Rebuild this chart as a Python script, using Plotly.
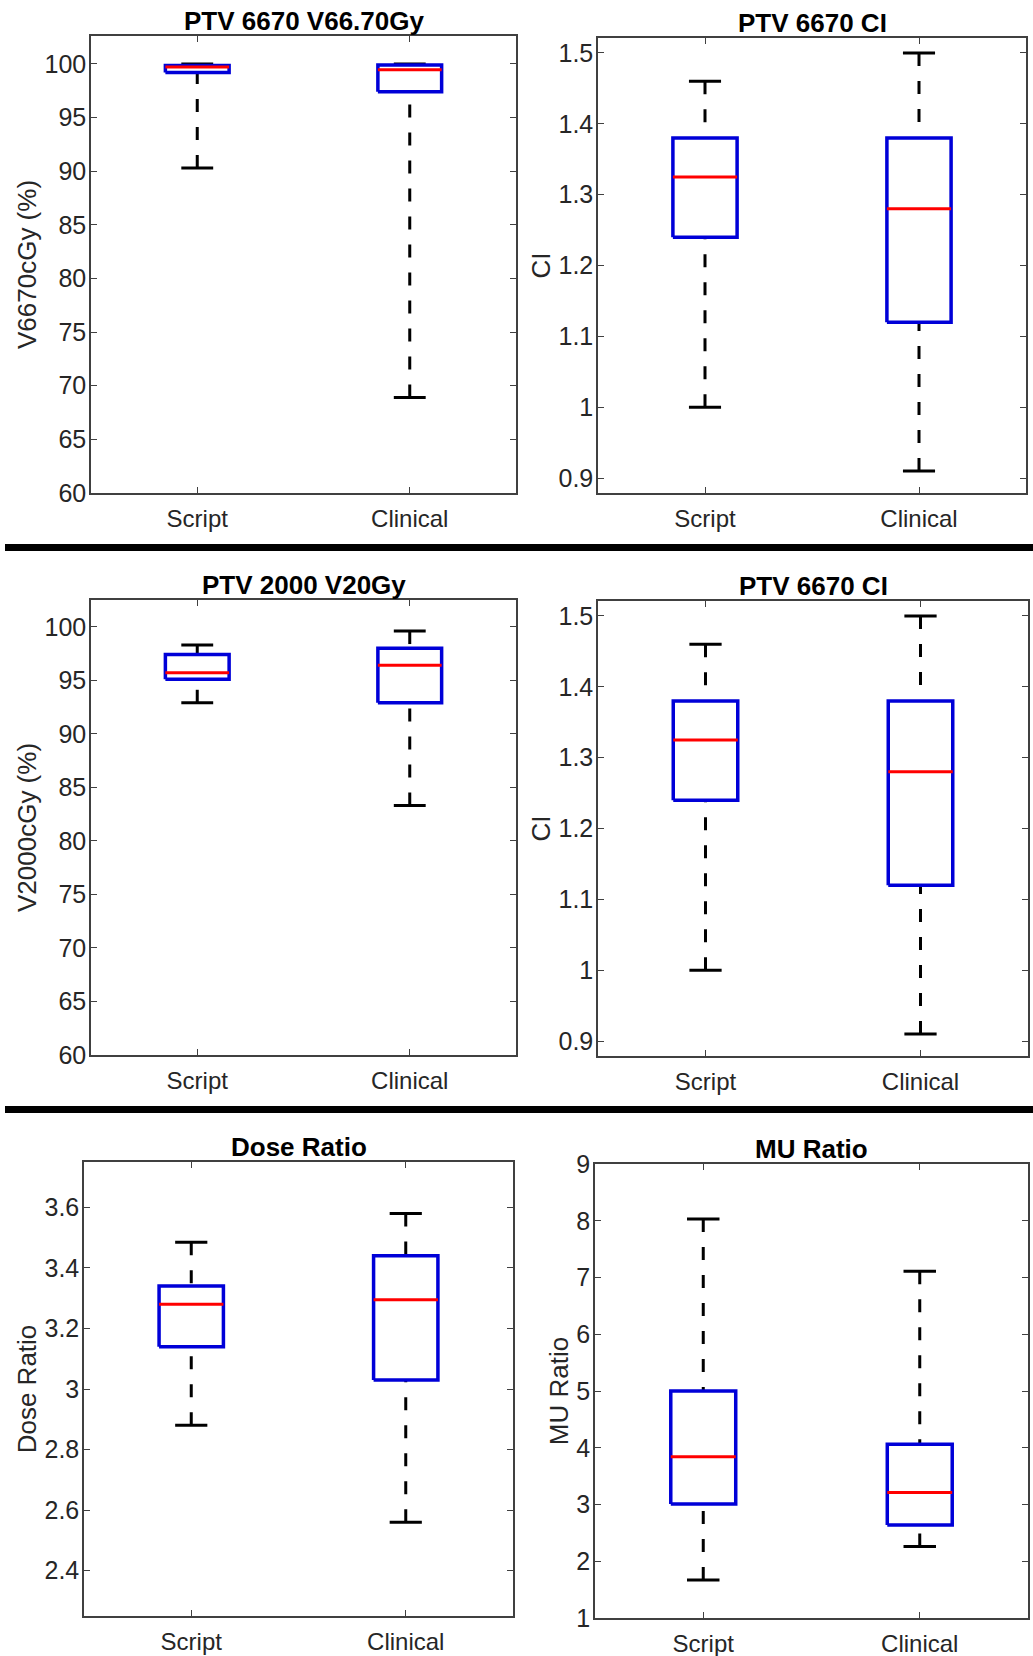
import plotly.graph_objects as go

W, H = 1033, 1656

categories = ["Script", "Clinical"]

# box statistics: [lower whisker, q1, median, q3, upper whisker]
v6670_script = [90.3, 99.2, 99.7, 99.85, 100.0]
v6670_clinical = [68.9, 97.4, 99.45, 99.9, 100.0]
ci_script = [1.00, 1.24, 1.325, 1.38, 1.46]
ci_clinical = [0.91, 1.12, 1.28, 1.38, 1.50]
v2000_script = [92.9, 95.1, 95.7, 97.4, 98.3]
v2000_clinical = [83.3, 92.9, 96.4, 98.0, 99.6]
dose_script = [2.88, 3.14, 3.28, 3.34, 3.485]
dose_clinical = [2.56, 3.03, 3.295, 3.44, 3.58]
mu_script = [1.67, 3.01, 3.84, 5.00, 8.03]
mu_clinical = [2.26, 2.64, 3.21, 4.06, 7.11]

titles = ["PTV 6670 V66.70Gy", "PTV 6670 CI", "PTV 2000 V20Gy", "PTV 6670 CI",
          "Dose Ratio", "MU Ratio"]
ylabels = ["V6670cGy (%)", "CI", "V2000cGy (%)", "CI", "Dose Ratio", "MU Ratio"]

pct_ticks = [60, 65, 70, 75, 80, 85, 90, 95, 100]
pct_ticktext = ["60", "65", "70", "75", "80", "85", "90", "95", "100"]
ci_ticks = [0.9, 1.0, 1.1, 1.2, 1.3, 1.4, 1.5]
ci_ticktext = ["0.9", "1", "1.1", "1.2", "1.3", "1.4", "1.5"]
dose_ticks = [2.4, 2.6, 2.8, 3.0, 3.2, 3.4, 3.6]
dose_ticktext = ["2.4", "2.6", "2.8", "3", "3.2", "3.4", "3.6"]
mu_ticks = [1, 2, 3, 4, 5, 6, 7, 8, 9]
mu_ticktext = ["1", "2", "3", "4", "5", "6", "7", "8", "9"]

panels = [
    dict(stats=[v6670_script, v6670_clinical], ticks=pct_ticks, ticktext=pct_ticktext,
         yrange=[60, 102.6], box=(91, 36, 516, 493)),
    dict(stats=[ci_script, ci_clinical], ticks=ci_ticks, ticktext=ci_ticktext,
         yrange=[0.879, 1.521], box=(598, 38, 1026, 493)),
    dict(stats=[v2000_script, v2000_clinical], ticks=pct_ticks, ticktext=pct_ticktext,
         yrange=[60, 102.5], box=(91, 600, 516, 1055)),
    dict(stats=[ci_script, ci_clinical], ticks=ci_ticks, ticktext=ci_ticktext,
         yrange=[0.879, 1.521], box=(598, 601, 1028, 1056)),
    dict(stats=[dose_script, dose_clinical], ticks=dose_ticks, ticktext=dose_ticktext,
         yrange=[2.25, 3.75], box=(84, 1162, 513, 1616)),
    dict(stats=[mu_script, mu_clinical], ticks=mu_ticks, ticktext=mu_ticktext,
         yrange=[1, 9], box=(595, 1164, 1028, 1618)),
]

HALF_BOX = 0.15
HALF_CAP = 0.075
BLUE = "#0000d8"
RED = "#ff0000"
AXC = "#262626"
FONT = "Liberation Sans, Arial, sans-serif"

fig = go.Figure()
layout = dict(
    width=W, height=H, margin=dict(l=0, r=0, t=0, b=0, autoexpand=False),
    paper_bgcolor="white", plot_bgcolor="white", showlegend=False,
    font=dict(family=FONT, color=AXC),
    annotations=[], shapes=[],
)

for k, p in enumerate(panels):
    n = "" if k == 0 else str(k + 1)
    xa, ya = "x" + n, "y" + n
    l, t, r, b = p["box"]
    wx, wy = [], []
    bx, by = [], []
    mx, my = [], []
    cx, cy = [], []
    for i, s in enumerate(p["stats"]):
        xc = i + 1
        lw, q1, med, q3, uw = s
        wx += [xc, xc, None, xc, xc, None]
        wy += [uw, q3, None, lw, q1, None]
        bx += [xc - HALF_BOX, xc + HALF_BOX, xc + HALF_BOX, xc - HALF_BOX, xc - HALF_BOX, None]
        by += [q1, q1, q3, q3, q1, None]
        mx += [xc - HALF_BOX, xc + HALF_BOX, None]
        my += [med, med, None]
        cx += [xc - HALF_CAP, xc + HALF_CAP, None, xc - HALF_CAP, xc + HALF_CAP, None]
        cy += [uw, uw, None, lw, lw, None]
    common = dict(xaxis=xa, yaxis=ya, mode="lines", hoverinfo="skip")
    fig.add_trace(go.Scatter(x=wx, y=wy, line=dict(color="black", width=3, dash="13px,15px"), **common))
    fig.add_trace(go.Scatter(x=cx, y=cy, line=dict(color="black", width=3), **common))
    fig.add_trace(go.Scatter(x=bx, y=by, line=dict(color=BLUE, width=3.5), **common))
    fig.add_trace(go.Scatter(x=mx, y=my, line=dict(color=RED, width=3), **common))

    axcommon = dict(showline=True, linecolor="#404040", linewidth=1.5, mirror="ticks",
                    ticks="inside", ticklen=6, tickwidth=1.2, tickcolor="#404040",
                    showgrid=False, zeroline=False, fixedrange=True, automargin=False)
    layout["xaxis" + n] = dict(domain=[l / W, r / W], anchor=ya, range=[0.5, 2.5],
                               tickvals=[1, 2], ticktext=categories,
                               tickfont=dict(size=24, color=AXC, family=FONT),
                               ticklabelstandoff=3, **axcommon)
    layout["yaxis" + n] = dict(domain=[1 - b / H, 1 - t / H], anchor=xa, range=p["yrange"],
                               tickvals=p["ticks"], ticktext=p["ticktext"],
                               tickfont=dict(size=25, color=AXC, family=FONT),
                               ticklabelstandoff=-2,
                               title=dict(text=ylabels[k], font=dict(size=26, color=AXC, family=FONT),
                                          standoff=0),
                               **axcommon)
    layout["annotations"].append(dict(
        text="<b>" + titles[k] + "</b>", xref=xa + " domain", yref=ya + " domain",
        x=0.5, y=1, xanchor="center", yanchor="bottom", showarrow=False,
        font=dict(size=26, color="black", family=FONT), yshift=-2))

for ysep in [547.5, 1109.5]:
    layout["shapes"].append(dict(type="line", xref="paper", yref="paper",
                                 x0=5 / W, x1=1, y0=1 - ysep / H, y1=1 - ysep / H,
                                 line=dict(color="black", width=7)))

fig.update_layout(**layout)
fig.write_html("out.html", config={"displayModeBar": False},
               post_script="document.body.style.margin='0';document.body.style.overflow='hidden';")
